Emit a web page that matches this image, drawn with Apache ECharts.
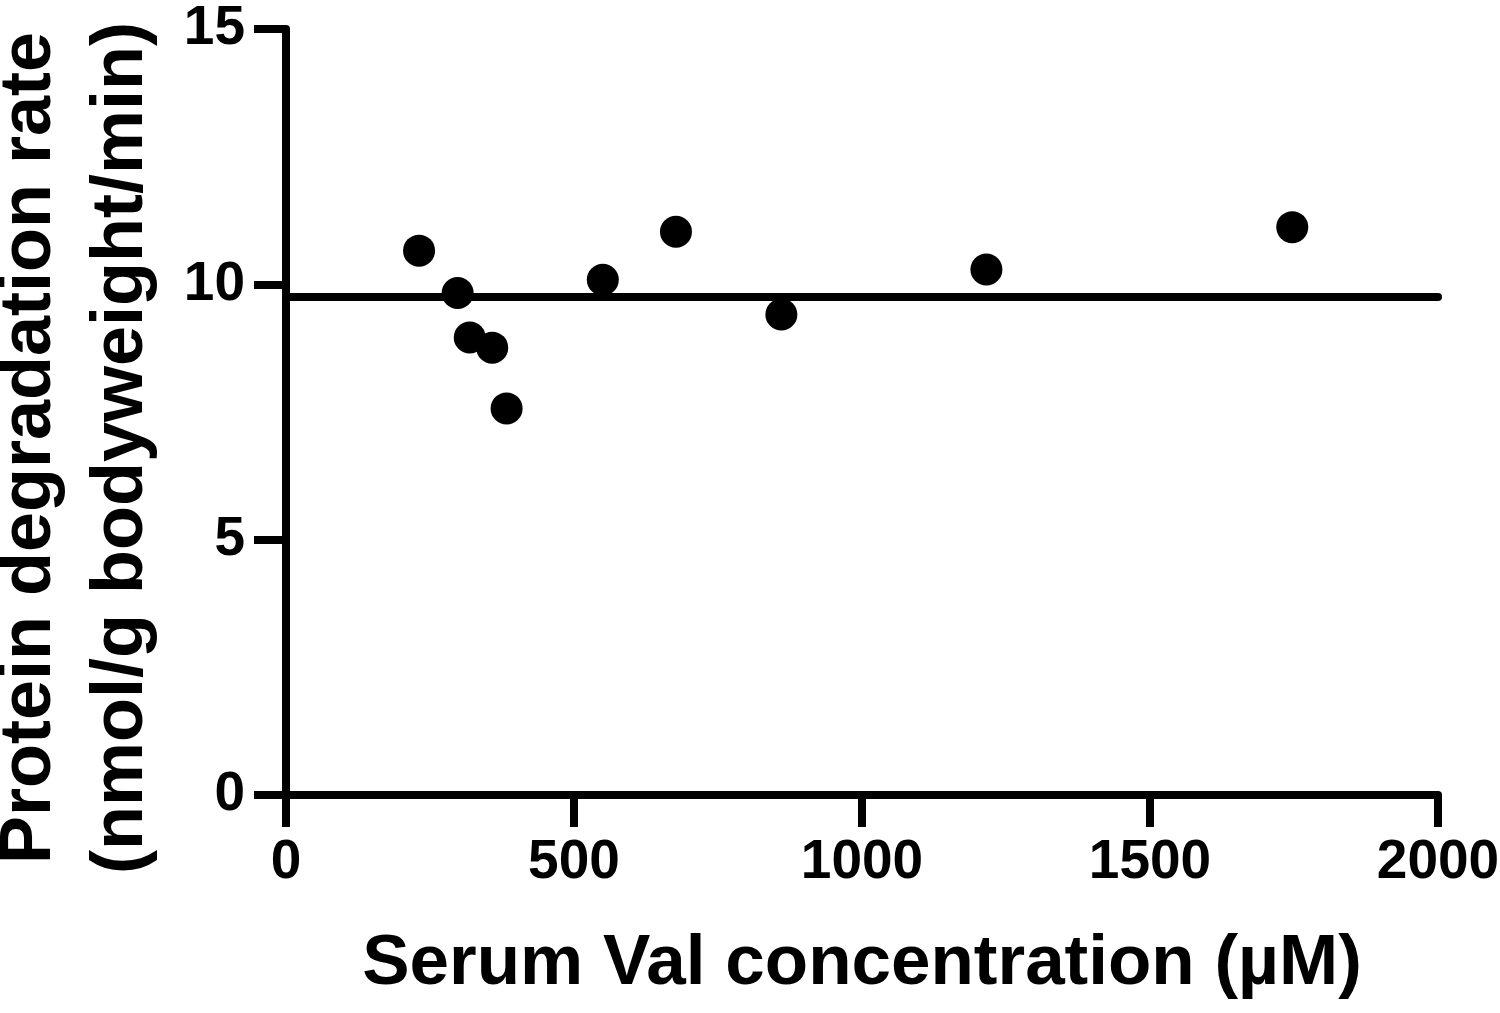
<!DOCTYPE html>
<html>
<head>
<meta charset="utf-8">
<script src="https://cdn.jsdelivr.net/npm/echarts@6/dist/echarts.min.js"></script>
<style>
  html, body { margin: 0; padding: 0; background: #fff; }
  #chart { width: 1500px; height: 1013px; }
</style>
</head>
<body>
<div id="chart"></div>
<script>
// serum Val (µM) vs protein degradation rate
const valConc = [231, 298, 319, 358, 383, 550, 677, 860, 1216, 1747]
const degRate = [10.66, 9.83, 8.96, 8.76, 7.57, 10.09, 11.03, 9.41, 10.29, 11.12]
// horizontal fit line
const fitX = [0, 2000]
const fitY = [9.75, 9.75]

const font = 'Liberation Sans, Arial, sans-serif'
const chart = echarts.init(document.getElementById('chart'))

chart.setOption({
  animation: false,
  backgroundColor: '#fff',
  grid: { left: 286, right: 62, top: 29, bottom: 218, outerBoundsMode: 'none' },
  xAxis: {
    type: 'value', min: 0, max: 2000, interval: 500,
    name: 'Serum Val concentration (µM)', nameLocation: 'middle', nameGap: 134,
    nameTextStyle: { fontFamily: font, fontWeight: 'bold', fontSize: 71, color: '#000' },
    axisLine: { lineStyle: { color: '#000', width: 8 } },
    axisTick: { length: 32, lineStyle: { color: '#000', width: 8 } },
    axisLabel: { margin: 40, fontFamily: font, fontWeight: 'bold', fontSize: 55, color: '#000', formatter: v => String(v) },
    splitLine: { show: false }
  },
  yAxis: {
    type: 'value', min: 0, max: 15, interval: 5,
    name: 'Protein degradation rate\n(nmol/g bodyweight/min)', nameLocation: 'middle', nameGap: 118, nameRotate: 90,
    nameTextStyle: { fontFamily: font, fontWeight: 'bold', fontSize: 72, lineHeight: 92, color: '#000', padding: [0, 72, 0, 0] },
    axisLine: { show: true, lineStyle: { color: '#000', width: 8 } },
    axisTick: { show: true, length: 32, lineStyle: { color: '#000', width: 8 } },
    axisLabel: { margin: 41, fontFamily: font, fontWeight: 'bold', fontSize: 55, color: '#000' },
    splitLine: { show: false }
  },
  series: [
    {
      type: 'line', data: fitX.map((x, i) => [x, fitY[i]]),
      symbol: 'none', lineStyle: { color: '#000', width: 8, cap: 'round' }, z: 1
    },
    {
      type: 'scatter', data: valConc.map((x, i) => [x, degRate[i]]),
      symbol: 'circle', symbolSize: 32, itemStyle: { color: '#000', opacity: 1 }, z: 3
    }
  ]
})
</script>
</body>
</html>
